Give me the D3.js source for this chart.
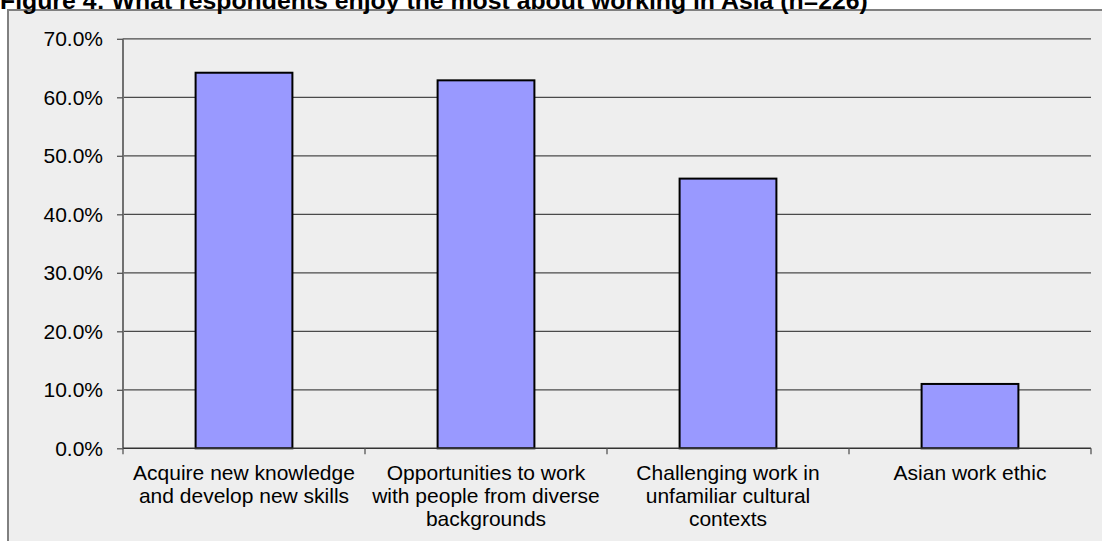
<!DOCTYPE html>
<html>
<head>
<meta charset="utf-8">
<script src="https://cdn.jsdelivr.net/npm/d3@7"></script>
<style>
  html, body { margin: 0; padding: 0; background: #ffffff; overflow: hidden; }
  svg { display: block; font-family: "Liberation Sans", Arial, sans-serif; }
</style>
</head>
<body>
<svg id="chart" width="1102" height="541"></svg>
<script>
// Survey results: share of respondents choosing each aspect
const categories = [
  ["Acquire new knowledge", "and develop new skills"],
  ["Opportunities to work", "with people from diverse", "backgrounds"],
  ["Challenging work in", "unfamiliar cultural", "contexts"],
  ["Asian work ethic"]
];
const values = [64.2, 62.9, 46.1, 11.0];
const yTicks = [0, 10, 20, 30, 40, 50, 60, 70];
const title = "Figure 4: What respondents enjoy the most about working in Asia (n=226)";

const svg = d3.select("#chart");
const plot = { left: 123, right: 1091, top: 38.8, bottom: 448.3 };

// Chart panel
svg.append("rect")
  .attr("x", 8).attr("y", 10)
  .attr("width", 1120).attr("height", 560)
  .attr("fill", "#eeeeee")
  .attr("stroke", "#808080")
  .attr("stroke-width", 2);

// Title (sits at the very top of the page)
svg.append("text")
  .attr("x", 0).attr("y", 8.5)
  .attr("font-size", 24.8)
  .attr("font-weight", "bold")
  .attr("fill", "#000")
  .text(title);

const keys = categories.map((c, i) => i);
const x = d3.scaleBand()
  .domain(keys)
  .range([plot.left, plot.right])
  .paddingInner(0.6)
  .paddingOuter(0.3);
const step = x.step();

const y = d3.scaleLinear()
  .domain([0, 70])
  .range([plot.bottom, plot.top]);

// Horizontal gridlines
svg.append("g")
  .selectAll("line")
  .data(yTicks.filter(t => t > 0))
  .join("line")
  .attr("x1", plot.left).attr("x2", plot.right)
  .attr("y1", d => y(d)).attr("y2", d => y(d))
  .attr("stroke", "#4a4a4a")
  .attr("stroke-width", 1.3);

// Y axis
const yAxis = d3.axisLeft(y)
  .tickValues(yTicks)
  .tickFormat(d => d.toFixed(1) + "%")
  .tickSize(6)
  .tickPadding(14);
const gy = svg.append("g")
  .attr("transform", `translate(${plot.left},0)`)
  .call(yAxis);
gy.select(".domain").attr("stroke", "#707070").attr("stroke-width", 2)
  .attr("d", `M0,${plot.top}V${plot.bottom}`);
gy.selectAll(".tick line").attr("stroke", "#555").attr("stroke-width", 1.3);
gy.selectAll(".tick text")
  .attr("font-size", 21)
  .attr("font-family", "Liberation Sans, Arial, sans-serif")
  .attr("fill", "#000");

// Bars
svg.append("g")
  .selectAll("rect")
  .data(values)
  .join("rect")
  .attr("x", (d, i) => x(i))
  .attr("y", d => y(d))
  .attr("width", x.bandwidth())
  .attr("height", d => y(0) - y(d))
  .attr("fill", "#9999ff")
  .attr("stroke", "#000")
  .attr("stroke-width", 2);

// X axis line and category boundary ticks
const gx = svg.append("g");
gx.append("line")
  .attr("x1", plot.left).attr("x2", plot.right)
  .attr("y1", y(0)).attr("y2", y(0))
  .attr("stroke", "#333").attr("stroke-width", 1.5);
const bounds = keys.map(i => x(i) - step * x.paddingOuter()).concat([plot.right]);
gx.selectAll("line.tick")
  .data(bounds)
  .join("line")
  .attr("class", "tick")
  .attr("x1", d => d).attr("x2", d => d)
  .attr("y1", y(0)).attr("y2", y(0) + 6)
  .attr("stroke", "#555").attr("stroke-width", 1.3);

// Category labels (multi-line, centred under each bar)
const labels = svg.append("g")
  .selectAll("text")
  .data(categories)
  .join("text")
  .attr("x", (d, i) => x(i) + x.bandwidth() / 2)
  .attr("y", 480)
  .attr("text-anchor", "middle")
  .attr("font-size", 21)
  .attr("fill", "#000");
labels.selectAll("tspan")
  .data(d => d)
  .join("tspan")
  .attr("x", function() { return d3.select(this.parentNode).attr("x"); })
  .attr("dy", (d, j) => j === 0 ? 0 : 23)
  .text(d => d);
</script>
</body>
</html>
